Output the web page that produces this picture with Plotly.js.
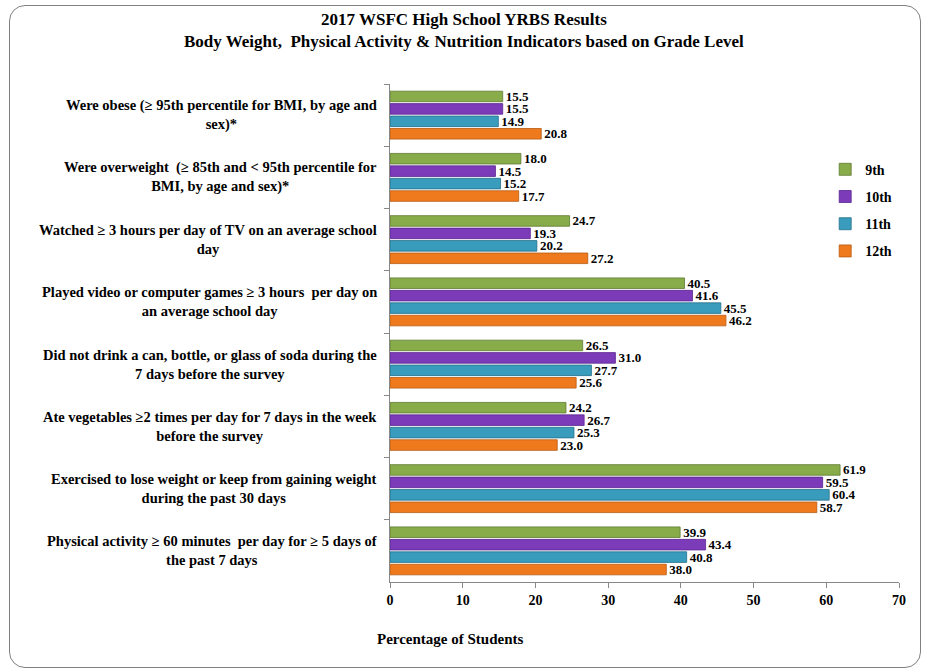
<!DOCTYPE html>
<html><head><meta charset="utf-8">
<script src="https://cdn.plot.ly/plotly-3.0.1.min.js"></script>
<style>
html,body{margin:0;padding:0;background:#fff;}
#wrap{position:relative;width:928px;height:672px;}
#chart{width:928px;height:672px;}
#frame{position:absolute;left:9px;top:5px;width:910px;height:661px;border:1px solid #808080;border-radius:16px;pointer-events:none;}
</style></head>
<body>
<div id="wrap"><div id="chart"></div><div id="frame"></div></div>
<script>
const categories = [
  "Were obese (≥ 95th percentile for BMI, by age and<br>sex)*",
  "Were overweight  (≥ 85th and < 95th percentile for<br>BMI, by age and sex)*",
  "Watched ≥ 3 hours per day of TV on an average school<br>day",
  "Played video or computer games ≥ 3 hours  per day on<br>an average school day",
  "Did not drink a can, bottle, or glass of soda during the<br>7 days before the survey",
  "Ate vegetables ≥2 times per day for 7 days in the week<br>before the survey",
  "Exercised to lose weight or keep from gaining weight<br>during the past 30 days",
  "Physical activity ≥ 60 minutes  per day for ≥ 5 days of<br>the past 7 days"
];
const seriesNames = ["9th","10th","11th","12th"];
const grade9  = [15.5, 18.0, 24.7, 40.5, 26.5, 24.2, 61.9, 39.9];
const grade10 = [15.5, 14.5, 19.3, 41.6, 31.0, 26.7, 59.5, 43.4];
const grade11 = [14.9, 15.2, 20.2, 45.5, 27.7, 25.3, 60.4, 40.8];
const grade12 = [20.8, 17.7, 27.2, 46.2, 25.6, 23.0, 58.7, 38.0];
const xTicks = [0,10,20,30,40,50,60,70];

const colors = ["#88AC4A","#7C3CBA","#3A9CBC","#EF7A1E"];
const lines = ["#5E7A30","#5A2590","#22708A","#B85A10"];
const values = [grade9, grade10, grade11, grade12];
const FONT = "Liberation Serif, Times New Roman, serif";

const traces = values.map((v,i)=>({
  type:'bar', orientation:'h', name:seriesNames[i],
  x:v, y:categories,
  marker:{color:colors[i], line:{color:lines[i], width:0.8}},
  texttemplate:'%{x:.1f}', textposition:'outside', cliponaxis:false, constraintext:'none',
  textfont:{family:FONT, size:13, color:'#000', weight:'bold'},
  legendgroup:'g'+i, hoverinfo:'x+name'
}));

const annotations = categories.map(c=>({
  xref:'paper', yref:'y', x:-0.022, y:c, xanchor:'right', yanchor:'middle',
  text:'<b>'+c+'</b>', showarrow:false, align:'center',
  font:{family:FONT, size:14.5, color:'#000'}
}));
annotations.push({
  xref:'paper', yref:'paper', x:-0.03, y:-0.095, xanchor:'left', yanchor:'top',
  text:'<b>Percentage of Students</b>', showarrow:false,
  font:{family:FONT, size:15, color:'#000'}
});
annotations.push({
  xref:'paper', yref:'paper', x:0.145, y:1.152, xanchor:'center', yanchor:'top',
  text:'<b>2017 WSFC High School YRBS Results<br>Body Weight,  Physical Activity & Nutrition Indicators based on Grade Level</b>',
  showarrow:false, align:'center',
  font:{family:FONT, size:17, color:'#000'}
});

const layout = {
  width:928, height:672,
  margin:{l:390, r:29, t:84, b:90},
  paper_bgcolor:'rgba(0,0,0,0)', plot_bgcolor:'rgba(0,0,0,0)',
  barmode:'group', bargap:0.2, bargroupgap:0.15,
  xaxis:{range:[0,70], tickvals:xTicks, ticks:'outside', ticklen:5, tickcolor:'#888',
    showline:true, linecolor:'#888', showgrid:false, zeroline:false,
    tickfont:{family:FONT, size:14, color:'#000', weight:'bold'}},
  yaxis:{autorange:'reversed', showticklabels:false, ticks:'outside', tickson:'boundaries',
    ticklen:5, tickcolor:'#888', showline:true, linecolor:'#888', showgrid:false},
  showlegend:true,
  legend:{x:0.855, y:0.86, xanchor:'left', yanchor:'top', traceorder:'grouped', tracegroupgap:6,
    itemwidth:30, bgcolor:'rgba(0,0,0,0)', font:{family:FONT, size:14, color:'#000', weight:'bold'}},
  annotations:annotations
};
Plotly.newPlot('chart', traces, layout, {displayModeBar:false});
</script>
</body></html>
